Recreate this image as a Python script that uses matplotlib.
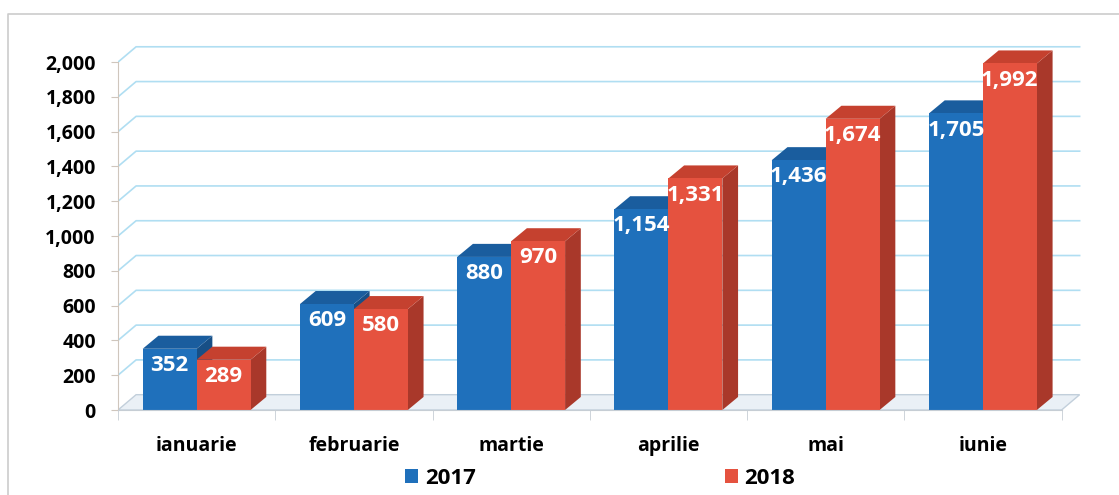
import numpy as np
import matplotlib.pyplot as plt
from matplotlib.patches import Polygon, Patch
from matplotlib.lines import Line2D
from matplotlib.ticker import FuncFormatter

plt.rcParams['font.family'] = ['Open Sans', 'DejaVu Sans']
plt.rcParams['font.weight'] = 'bold'

months = ['ianuarie', 'februarie', 'martie', 'aprilie', 'mai', 'iunie']
v2017 = [352, 609, 880, 1154, 1436, 1705]
v2018 = [289, 580, 970, 1331, 1674, 1992]
years = ['2017', '2018']
yticks = list(range(0, 2001, 200))

blue = {'front': '#1f70bb', 'top': '#1a5d9e', 'side': '#174f86'}
red = {'front': '#e5523f', 'top': '#c5412f', 'side': '#a9382a'}
grid_c = '#b0def2'

W, H = 1119, 495
fig = plt.figure(figsize=(W / 100, H / 100), dpi=100)
fig.patch.set_facecolor('white')

# axes placed so that 0..2000 spans the front plane
ax = fig.add_axes([118 / W, 85 / H, 975 / W, 374 / H])
ax.set_xlim(-0.5, 5.7)
ax.set_ylim(0, 2150)

# depth of walls / bars in data units
wdx, wdy = 0.115, 88
bdx, bdy = 0.10, 75
bw = 0.343

x = np.arange(len(months))
left, right = -0.5, len(months) - 0.5

# floor
ax.add_patch(Polygon([(left, 0), (right, 0), (right + wdx, wdy), (left + wdx, wdy)],
                     closed=True, facecolor='#eaf0f6', edgecolor='#c2cfdb', lw=1, zorder=1))

# back wall gridlines
for v in yticks[1:]:
    ax.plot([left, left + wdx, right + wdx], [v, v + wdy, v + wdy],
            color=grid_c, lw=1.2, zorder=0.5)


def bar3d(x0, h, col):
    ax.add_patch(Polygon([(x0 + bw, 0), (x0 + bw + bdx, bdy), (x0 + bw + bdx, h + bdy), (x0 + bw, h)],
                         closed=True, facecolor=col['side'], edgecolor='none', zorder=2))
    ax.add_patch(Polygon([(x0, h), (x0 + bw, h), (x0 + bw + bdx, h + bdy), (x0 + bdx, h + bdy)],
                         closed=True, facecolor=col['top'], edgecolor='none', zorder=2))
    ax.bar(x0, h, width=bw, align='edge', color=col['front'], zorder=2)


for i in range(len(months)):
    bar3d(x[i] - bw, v2017[i], blue)
    bar3d(x[i], v2018[i], red)
    for xc, v in [(x[i] - bw / 2, v2017[i]), (x[i] + bw / 2, v2018[i])]:
        ax.annotate(f'{v:,}', (xc, v), xytext=(0, -12), textcoords='offset points',
                    ha='center', va='center', color='white', fontsize=16,
                    fontweight='bold', zorder=3)

# axes styling
for s in ['top', 'right']:
    ax.spines[s].set_visible(False)
ax.spines['left'].set_bounds(0, 2000)
ax.spines['bottom'].set_bounds(left, right)
ax.spines['left'].set_color('#cfc6bd')
ax.spines['bottom'].set_color('#c6cdd4')
ax.set_yticks(yticks)
ax.yaxis.set_major_formatter(FuncFormatter(lambda v, p: f'{int(v):,}'))
ax.tick_params(axis='y', length=5, color='#cfc6bd', pad=11, labelsize=14)
ax.set_xticks(x)
ax.set_xticklabels(months)
ax.set_xticks(np.arange(left, right + 0.01, 1), minor=True)
ax.tick_params(axis='x', which='major', length=0, pad=19, labelsize=14)
ax.tick_params(axis='x', which='minor', length=7, color='#c6cdd4')
for lab in ax.get_xticklabels() + ax.get_yticklabels():
    lab.set_fontweight('bold')

# legend
handles = [Patch(facecolor=blue['front']), Patch(facecolor=red['front'])]
fig.legend(handles, years, loc='center', bbox_to_anchor=(600 / W, 17 / H), ncol=2,
           frameon=False, fontsize=16, handlelength=0.6, handleheight=0.6,
           handletextpad=0.3, columnspacing=11.2, borderpad=0)

# outer frame
fig.lines.append(Line2D([8 / W, 8 / W, 1.1], [-0.1, 1 - 14 / H, 1 - 14 / H],
                        transform=fig.transFigure, color='#cccccc', lw=1.2))

fig.savefig('out.png', dpi=100)
